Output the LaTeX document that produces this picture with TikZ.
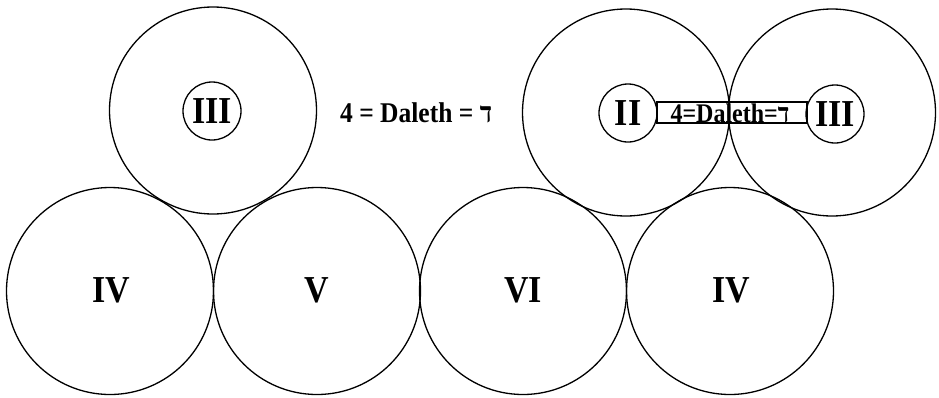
\documentclass[tikz,border=0pt]{standalone}
\usepackage{fontspec}
\usepackage{graphicx}
\setmainfont{Liberation Serif}
\newfontfamily\hebfont[Script=Hebrew]{Liberation Serif}
\newcommand{\tall}[1]{\scalebox{1}[1.12]{#1}}
\begin{document}
\begin{tikzpicture}[x=1pt,y=-1pt,
  big/.style={circle,draw,line width=1.3pt,minimum size=207pt,inner sep=0pt},
  small/.style={circle,draw,line width=1.3pt,minimum size=58pt,inner sep=0pt},
  numeral/.style={font=\fontsize{34}{40}\selectfont\bfseries,inner sep=0pt},
  eqtext/.style={font=\fontsize{24}{28}\selectfont\bfseries,inner sep=0pt},
  eqbig/.style={font=\fontsize{25.5}{29}\selectfont\bfseries,inner sep=0pt},
  bar/.style={draw,line width=1.3pt,minimum width=150pt,minimum height=21pt,inner sep=0pt}]
\useasboundingbox (0,0) rectangle (939,397);
% bottom row
\node[big] (c4a) at (110,291) {};
\node[big] (c5) at (317,291) {};
\node[big] (c6) at (523,291) {};
\node[big] (c4b) at (730,291) {};
\node[numeral] (t4a) at (111,290) {\tall{IV}};
\node[numeral] (t5) at (317,290) {\tall{V}};
\node[numeral] (t6) at (523,290) {\tall{VI}};
\node[numeral] (t4b) at (731,290) {\tall{IV}};
% top row
\node[big] (c3a) at (213,110.5) {};
\node[big] (c2) at (626,112.5) {};
\node[big] (c3b) at (832,112.5) {};
\node[small] (s3a) at (212,111) {};
\node[numeral] (t3a) at (212,111) {\tall{III}};
\node[small] (s2) at (628,113) {};
\node[numeral] (t2) at (628,113) {\tall{II}};
\node[small] (s3b) at (835,114) {};
\node[numeral] (t3b) at (835,114) {\tall{III}};
% labels
\node[eqbig,anchor=west] (eq1) at (340,113) {\tall{4 = Daleth = {\hebfont ד}}};
\node[bar] (bar) at (732,112.5) {};
\node[eqtext] (eq2) at (730,113) {\tall{4=Daleth={\hebfont ד}}};
\end{tikzpicture}
\end{document}
